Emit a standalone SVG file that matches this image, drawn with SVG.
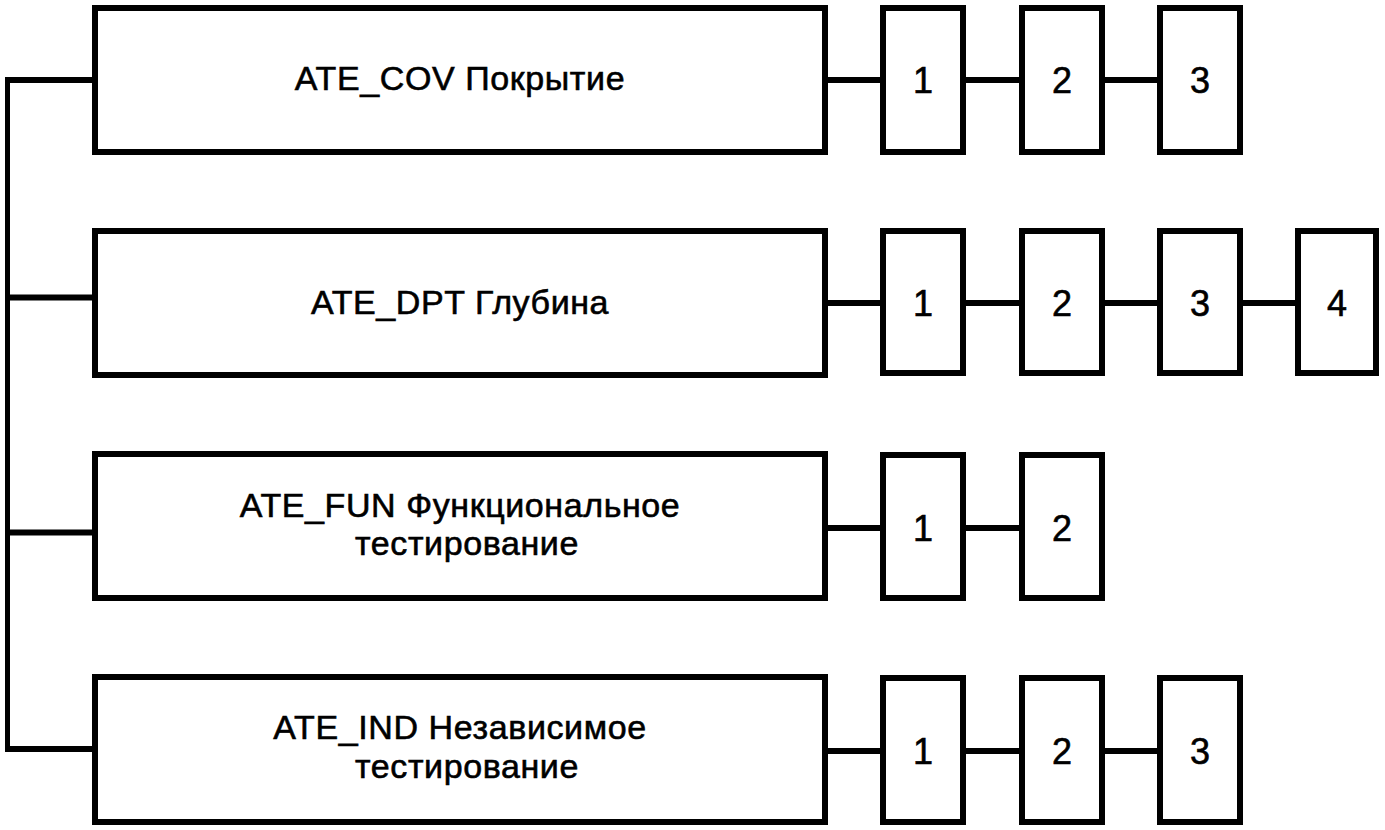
<svg xmlns="http://www.w3.org/2000/svg" width="1385" height="830" viewBox="0 0 1385 830">
<style>
.box{fill:#fff;stroke:#000;stroke-width:6}
.ln{fill:none;stroke:#000;stroke-width:6}
.tr{fill:none;stroke:#000;stroke-width:5}
.t{font-family:"Liberation Sans",Arial,sans-serif;font-size:34px;letter-spacing:0.6px;fill:#000;stroke:#000;stroke-width:0.6;text-anchor:middle}
.d{font-family:"Liberation Sans",Arial,sans-serif;font-size:36px;fill:#000;stroke:#000;stroke-width:0.6;text-anchor:middle}
</style>
<rect width="1385" height="830" fill="#fff"/>
<g id="connectors">
<path class="tr" d="M7.5,77.5 V752"/>
<path class="ln" d="M5,80 H95 M5,297.5 H95 M5,532.5 H95 M5,749 H95"/>
<path class="ln" d="M825,80 H883 M963,80 H1022 M1102,80 H1160"/>
<path class="ln" d="M825,303 H883 M963,303 H1022 M1102,303 H1160 M1240,303 H1298"/>
<path class="ln" d="M825,528 H883 M963,528 H1022"/>
<path class="ln" d="M825,751 H883 M963,751 H1022 M1102,751 H1160"/>
</g>
<g id="cov">
<rect class="box" x="95" y="8" width="730" height="144"/>
<text class="t" x="460" y="90">ATE_COV Покрытие</text>
</g>
<g id="cov1"><rect class="box" x="883" y="8" width="80" height="144"/><text class="d" x="923" y="93">1</text></g>
<g id="cov2"><rect class="box" x="1022" y="8" width="80" height="144"/><text class="d" x="1062" y="93">2</text></g>
<g id="cov3"><rect class="box" x="1160" y="8" width="80" height="144"/><text class="d" x="1200" y="93">3</text></g>
<g id="dpt">
<rect class="box" x="95" y="231" width="730" height="144"/>
<text class="t" x="460" y="314">ATE_DPT Глубина</text>
</g>
<g id="dpt1"><rect class="box" x="883" y="231" width="80" height="142"/><text class="d" x="923" y="316">1</text></g>
<g id="dpt2"><rect class="box" x="1022" y="231" width="80" height="142"/><text class="d" x="1062" y="316">2</text></g>
<g id="dpt3"><rect class="box" x="1160" y="231" width="80" height="142"/><text class="d" x="1200" y="316">3</text></g>
<g id="dpt4"><rect class="box" x="1298" y="231" width="78" height="142"/><text class="d" x="1337" y="316">4</text></g>
<g id="fun">
<rect class="box" x="95" y="454" width="730" height="144"/>
<text class="t" x="460" y="517">ATE_FUN Функциональное</text>
<text class="t" x="467" y="555">тестирование</text>
</g>
<g id="fun1"><rect class="box" x="883" y="455" width="80" height="143"/><text class="d" x="923" y="541">1</text></g>
<g id="fun2"><rect class="box" x="1022" y="455" width="80" height="143"/><text class="d" x="1062" y="541">2</text></g>
<g id="ind">
<rect class="box" x="95" y="677" width="730" height="145"/>
<text class="t" x="460" y="739">ATE_IND Независимое</text>
<text class="t" x="467" y="778">тестирование</text>
</g>
<g id="ind1"><rect class="box" x="883" y="678" width="80" height="144"/><text class="d" x="923" y="764">1</text></g>
<g id="ind2"><rect class="box" x="1022" y="678" width="80" height="144"/><text class="d" x="1062" y="764">2</text></g>
<g id="ind3"><rect class="box" x="1160" y="678" width="80" height="144"/><text class="d" x="1200" y="764">3</text></g>
</svg>
